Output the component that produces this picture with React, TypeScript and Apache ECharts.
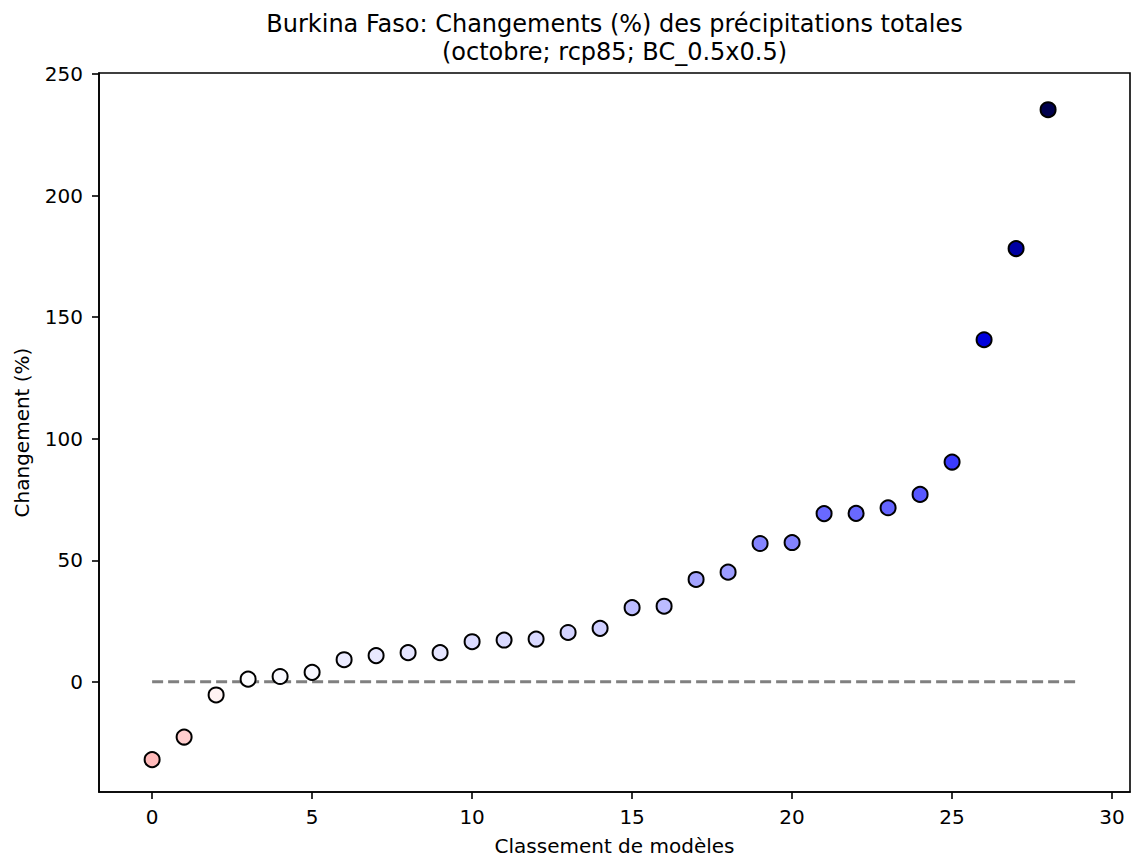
import React, { useEffect, useRef } from "react";
import * as echarts from "echarts";

const changes = [
  -32.0, -22.7, -5.4, 1.1, 2.2, 3.9, 9.1, 10.8, 12.0, 12.0, 16.5, 17.2, 17.6,
  20.3, 22.0, 30.5, 31.1, 42.1, 45.1, 56.9, 57.3, 69.2, 69.3, 71.6, 77.1, 90.4,
  140.7, 178.2, 235.3,
];
const ranks = changes.map((_, i) => i);
const zeroLine = [
  [0, 0],
  [29, 0],
];
const xTicks = [0, 5, 10, 15, 20, 25, 30];
const yTicks = [0, 50, 100, 150, 200, 250];
const titleLines = [
  "Burkina Faso: Changements (%) des précipitations totales",
  "(octobre; rcp85; BC_0.5x0.5)",
];
const xName = "Classement de modèles";
const yName = "Changement (%)";
const cmap = ["#800000", "#ff0000", "#ffffff", "#0000ff", "#00004d"];

const FONT = "DejaVu Sans";

export default function App() {
  const ref = useRef<HTMLDivElement>(null);
  useEffect(() => {
    if (!ref.current) return;
    const chart = echarts.init(ref.current, null, { renderer: "svg" });
    const vmax = Math.max(...changes.map((v) => Math.abs(v)));
    const plotCenterX = 614.5;
    chart.setOption({
      animation: false,
      backgroundColor: "#ffffff",
      textStyle: { fontFamily: FONT },
      graphic: [
        {
          type: "text",
          x: plotCenterX,
          y: 24,
          style: {
            text: titleLines[0],
            font: `24px "${FONT}"`,
            fill: "#000",
            textAlign: "center",
            textVerticalAlign: "middle",
          },
        },
        {
          type: "text",
          x: plotCenterX,
          y: 52,
          style: {
            text: titleLines[1],
            font: `24px "${FONT}"`,
            fill: "#000",
            textAlign: "center",
            textVerticalAlign: "middle",
          },
        },
      ],
      grid: {
        left: 99,
        right: 2,
        top: 73,
        bottom: 65,
        show: true,
        borderColor: "#000",
        borderWidth: 1.6,
        backgroundColor: "transparent",
      },
      visualMap: {
        type: "continuous",
        show: false,
        min: -vmax,
        max: vmax,
        dimension: 1,
        seriesIndex: 0,
        inRange: { color: cmap },
      },
      xAxis: {
        type: "value",
        min: -1.66,
        max: 30.56,
        name: xName,
        nameLocation: "middle",
        nameGap: 44,
        nameTextStyle: { fontFamily: FONT, fontSize: 20, color: "#000" },
        axisLine: {
          show: true,
          onZero: false,
          lineStyle: { color: "#000", width: 1.6 },
        },
        axisTick: {
          show: true,
          length: 7,
          lineStyle: { color: "#000", width: 1.6 },
          customValues: xTicks,
        },
        axisLabel: {
          fontFamily: FONT,
          fontSize: 20,
          color: "#000",
          margin: 15,
          customValues: xTicks,
        },
        splitLine: { show: false },
      },
      yAxis: {
        type: "value",
        min: -45.3,
        max: 250.4,
        name: yName,
        nameLocation: "middle",
        nameGap: 67,
        nameTextStyle: { fontFamily: FONT, fontSize: 20, color: "#000" },
        axisLine: {
          show: true,
          onZero: false,
          lineStyle: { color: "#000", width: 1.6 },
        },
        axisTick: {
          show: true,
          length: 7,
          lineStyle: { color: "#000", width: 1.6 },
          customValues: yTicks,
        },
        axisLabel: {
          fontFamily: FONT,
          fontSize: 20,
          color: "#000",
          margin: 16,
          customValues: yTicks,
        },
        splitLine: { show: false },
      },
      series: [
        {
          type: "scatter",
          data: ranks.map((r, i) => [r, changes[i]]),
          symbol: "circle",
          symbolSize: 15,
          itemStyle: { borderColor: "#000", borderWidth: 2, opacity: 1 },
          z: 3,
        },
        {
          type: "line",
          data: zeroLine,
          symbol: "none",
          lineStyle: { color: "#808080", width: 3, type: [11, 5] },
          z: 2,
          silent: true,
        },
      ],
    });
    return () => chart.dispose();
  }, []);
  return (
    <div
      ref={ref}
      style={{ position: "fixed", left: 0, top: 0, width: 1132, height: 861 }}
    />
  );
}
